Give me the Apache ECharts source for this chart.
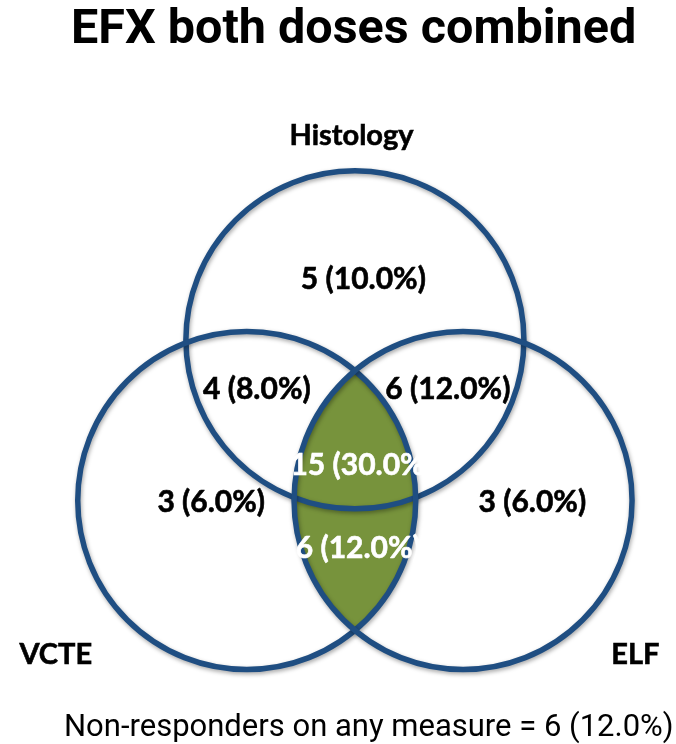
<!DOCTYPE html>
<html>
<head>
<meta charset="utf-8">
<script src="https://cdn.jsdelivr.net/npm/echarts@6/dist/echarts.min.js"></script>
<style>
  html, body { margin: 0; padding: 0; background: #fff; }
  #chart { width: 676px; height: 744px; }
</style>
</head>
<body>
<div id="chart"></div>
<script>
// sets of the Venn diagram
var setNames = ['Histology', 'VCTE', 'ELF'];
// region counts (patients), total population
var regionNames = ['Histology only', 'Histology + VCTE', 'Histology + ELF', 'All three', 'VCTE only', 'ELF only', 'VCTE + ELF'];
var regionCounts = [5, 4, 6, 15, 3, 3, 6];
var nonResponders = 6;
var totalN = 50;

// layout, in diagram units (circle radius = 100)
var setCenterX = [0, -64, 64];
var setCenterY = [95, 0, 0];
var setRadius = [100, 100, 100];
var setLabelX = [-2, -177, 166];
var setLabelY = [216, -91, -91];
var regionLabelX = [5, -58, 55, 4, -85, 105, 2];
var regionLabelY = [131, 66, 66, 21, -1, -1, -28];
var regionWhite = [false, false, false, true, false, false, true];

function pct(n) {
  return n + ' (' + (n / totalN * 100).toFixed(1) + '%)';
}

// points along the lens where two circles overlap
function lensPoints(a, b) {
  var ax = setCenterX[a], ay = setCenterY[a], ar = setRadius[a];
  var bx = setCenterX[b], by = setCenterY[b], br = setRadius[b];
  var d = Math.sqrt((bx - ax) * (bx - ax) + (by - ay) * (by - ay));
  var l = (ar * ar - br * br + d * d) / (2 * d);
  var h = Math.sqrt(ar * ar - l * l);
  var ux = (bx - ax) / d, uy = (by - ay) / d;
  var mx = ax + ux * l, my = ay + uy * l;
  var p1 = [mx - uy * h, my + ux * h];
  var p2 = [mx + uy * h, my - ux * h];
  var pts = [];
  function arc(cx, cy, r, from, to) {
    var t0 = Math.atan2(from[1] - cy, from[0] - cx);
    var t1 = Math.atan2(to[1] - cy, to[0] - cx);
    while (t1 < t0) t1 += Math.PI * 2;
    for (var i = 0; i <= 60; i++) {
      var t = t0 + (t1 - t0) * i / 60;
      pts.push([cx + r * Math.cos(t), cy + r * Math.sin(t)]);
    }
  }
  arc(ax, ay, ar, p2, p1);
  arc(bx, by, br, p1, p2);
  return pts;
}

var chart = echarts.init(document.getElementById('chart'));

var circleData = setNames.map(function (n, i) {
  return [setCenterX[i], setCenterY[i], setRadius[i]];
});
var regionData = regionCounts.map(function (c, i) {
  var col = regionWhite[i] ? '#fff' : '#000';
  return {
    name: regionNames[i],
    value: [regionLabelX[i], regionLabelY[i], c],
    label: { color: col, textBorderColor: col }
  };
});
var setLabelData = setNames.map(function (n, i) {
  return { name: n, value: [setLabelX[i], setLabelY[i]] };
});

var labelFont = 'Lato';

chart.setOption({
  animation: false,
  title: [{
    text: 'EFX both doses combined',
    left: 66,
    top: 1,
    textStyle: { fontFamily: 'Roboto', fontWeight: 'bold', fontSize: 48.5, color: '#000' }
  }, {
    text: 'Non-responders on any measure = ' + pct(nonResponders),
    left: 59,
    top: 708,
    textStyle: { fontFamily: 'Roboto', fontWeight: 'normal', fontSize: 31, color: '#000' }
  }],
  grid: { left: 0, top: 0, width: 676, height: 744 },
  xAxis: { type: 'value', min: -210, max: 190, show: false },
  yAxis: { type: 'value', min: -144, max: 296, show: false },
  series: [{
    // green overlap of VCTE and ELF
    type: 'custom',
    silent: true,
    z: 1,
    data: [0],
    renderItem: function (params, api) {
      var pts = lensPoints(1, 2).map(function (p) { return api.coord(p); });
      return {
        type: 'polygon',
        shape: { points: pts },
        style: { fill: '#77933C' }
      };
    }
  }, {
    // circle outlines
    type: 'custom',
    silent: true,
    z: 2,
    data: circleData,
    renderItem: function (params, api) {
      var c = api.coord([api.value(0), api.value(1)]);
      var r = api.size([api.value(2), 0])[0];
      return {
        type: 'circle',
        shape: { cx: c[0], cy: c[1], r: r },
        style: {
          fill: 'none',
          stroke: '#1F4E82',
          lineWidth: 5.5,
          shadowBlur: 4,
          shadowColor: 'rgba(0,0,0,0.35)',
          shadowOffsetX: 1,
          shadowOffsetY: 2
        }
      };
    }
  }, {
    // region counts
    type: 'scatter',
    silent: true,
    z: 3,
    symbolSize: 0,
    itemStyle: { opacity: 1 },
    data: regionData,
    label: {
      show: true,
      position: 'inside',
      fontFamily: labelFont,
      fontWeight: 'bold',
      fontSize: 30,
      textBorderWidth: 0.6,
      formatter: function (p) { return pct(p.value[2]); }
    },
    labelLayout: { hideOverlap: false }
  }, {
    // set names
    type: 'scatter',
    silent: true,
    z: 3,
    symbolSize: 0,
    itemStyle: { opacity: 1 },
    data: setLabelData,
    label: {
      show: true,
      position: 'inside',
      fontFamily: labelFont,
      fontWeight: 'bold',
      fontSize: 29,
      color: '#000',
      textBorderColor: '#000',
      textBorderWidth: 0.6,
      formatter: '{b}'
    }
  }]
});
</script>
</body>
</html>
